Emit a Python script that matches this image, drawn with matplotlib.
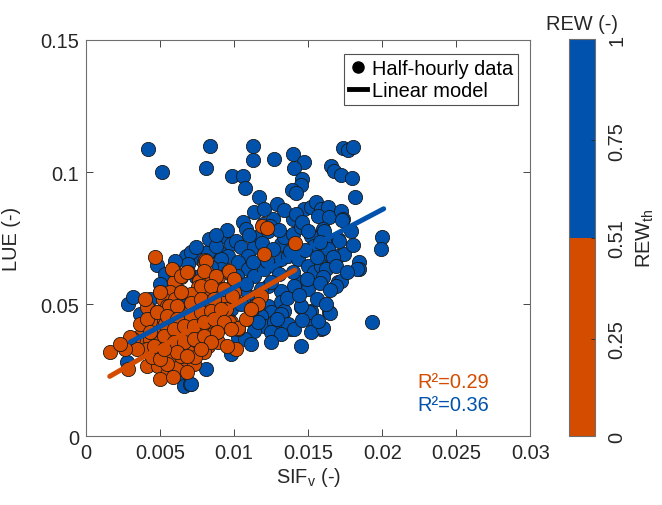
import numpy as np
import matplotlib
matplotlib.use('Agg')
import matplotlib.pyplot as plt
from matplotlib.colors import ListedColormap, BoundaryNorm
from matplotlib.cm import ScalarMappable
from matplotlib.lines import Line2D

plt.rcParams['font.family'] = ['Liberation Sans', 'DejaVu Sans']

# SIF_v and LUE, in units of 1e-3
# REW above threshold (blue)
blue_sif = [4.21, 5.16, 8.35, 8.08, 11.27, 11.27, 12.70, 9.84, 10.59, 10.73, 11.68, 13.99, 14.73, 14.05,
            14.60, 14.53, 13.92, 14.19, 17.38, 17.72, 18.06, 16.56, 16.77, 17.24, 17.99, 18.19, 11.34, 10.59,
            10.79, 11.95, 12.63, 13.99, 14.73, 15.21, 15.55, 15.89, 16.36, 15.68, 16.43, 17.24, 17.38, 9.23,
            9.78, 10.12, 10.45, 11.34, 11.68, 12.29, 13.17, 13.37, 13.99, 14.53, 15.21, 15.41, 16.02, 16.36,
            17.04, 7.54, 8.28, 9.00, 9.57, 10.93, 6.72, 7.74,
            4.82, 2.85, 3.19, 2.78, 6.38, 6.59, 6.99, 6.59, 7.20, 6.18, 7.06, 8.21, 9.10, 10.25, 10.93, 11.34,
            12.02, 12.70, 13.17, 13.65, 14.32, 15.00, 15.41, 15.89, 16.56, 17.04, 17.45, 18.40, 18.40, 17.04,
            17.24, 14.53, 14.05, 15.00, 13.17, 12.29, 11.81, 10.93, 11.61, 12.29, 13.17, 13.37, 12.49, 11.81,
            11.13, 11.34, 12.02, 12.70, 13.37, 13.85, 12.70, 11.34, 10.25, 14.53, 15.21, 15.41, 15.89, 15.21,
            16.43, 14.53, 19.28,
            17.31, 16.09, 17.11, 17.92, 19.96, 19.89, 16.36, 16.70, 16.23, 16.90, 16.02, 16.90, 18.33, 16.50,
            16.02, 11.61, 13.17, 13.65, 14.05, 12.49, 13.17, 12.49, 15.07, 15.68, 7.06, 14.53,
            7.74, 8.42, 9.23, 9.78, 10.45, 10.66, 9.91, 9.10, 8.42, 6.86, 6.04, 5.36, 4.34, 3.67, 4.00, 5.02,
            7.40, 9.57, 8.76, 10.73, 11.13, 9.78, 8.08, 6.04, 8.28, 8.76, 7.40,
            12.0, 12.9, 13.4, 14.2, 12.4, 13.0, 14.6, 15.0, 11.0, 11.9, 12.6, 13.8, 14.8, 15.6, 15.8, 12.2,
            13.0, 14.0, 14.9, 15.8, 16.5, 12.5, 13.6, 14.4, 15.6, 16.2, 10.2, 10.8, 11.5, 12.9, 14.6, 17.6,
            18.0, 9.5, 8.8, 11.3]
blue_lue = [108.7, 100.0, 109.8, 101.5, 109.8, 104.5, 104.9, 98.5, 98.5, 93.9, 90.5, 106.8, 103.8, 101.5,
            97.3, 95.1, 93.2, 92.0, 109.1, 108.3, 109.5, 102.3, 100.4, 98.9, 97.7, 90.5, 84.8, 81.1,
            78.4, 80.3, 82.2, 82.2, 86.0, 86.7, 88.6, 86.0, 86.7, 83.3, 83.0, 85.2, 82.2, 75.8,
            72.7, 73.9, 71.6, 71.6, 75.8, 77.7, 72.7, 75.4, 76.5, 79.2, 75.8, 72.0, 78.4, 72.7,
            74.6, 68.9, 69.7, 69.7, 68.2, 68.2, 68.2, 67.0,
            64.8, 50.0, 52.7, 28.0, 22.7, 18.9, 19.7, 51.9, 50.8, 54.9, 69.7, 69.7, 67.0, 65.9, 63.3, 60.6,
            63.3, 64.4, 67.0, 68.2, 67.0, 64.4, 62.1, 64.4, 68.2, 68.2, 68.9, 65.9, 63.3, 58.3,
            58.7, 58.3, 56.8, 55.7, 54.9, 56.8, 55.7, 51.9, 50.8, 49.2, 50.8, 47.3, 47.0, 45.5,
            47.0, 43.2, 41.7, 43.2, 41.7, 40.5, 39.4, 39.8, 37.5, 48.9, 47.3, 43.2, 40.5, 39.4,
            47.0, 34.1, 43.2,
            81.8, 77.7, 73.9, 77.7, 75.4, 70.8, 70.8, 67.8, 63.3, 64.4, 60.2, 56.8, 63.3, 46.6,
            40.9, 43.2, 46.2, 42.4, 40.5, 39.4, 38.6, 35.6, 47.0, 43.6, 19.7, 49.2,
            55.7, 53.0, 50.0, 48.1, 50.0, 55.7, 60.2, 63.3, 64.0, 65.2, 66.3, 61.4, 51.9, 46.2, 40.5, 57.6,
            60.2, 44.3, 42.4, 36.7, 34.8, 31.1, 25.4, 24.6, 74.6, 72.0, 71.6,
            86.0, 88.0, 85.5, 84.0, 79.5, 78.0, 81.0, 77.5, 76.0, 73.0, 71.0, 70.0, 70.5, 68.0, 73.5, 66.5,
            61.5, 62.0, 59.5, 58.0, 55.5, 58.5, 52.5, 53.5, 52.0, 50.0, 60.5, 57.5, 53.0, 44.5, 44.0, 62.0,
            72.5, 78.0, 76.0, 66.0]

# REW below threshold (orange)
orange_sif = [1.63, 4.68, 5.91, 6.38, 6.86, 5.91, 5.70, 6.38, 5.02, 5.23, 5.50, 4.14, 4.82, 4.21, 5.23,
              5.91, 6.59, 7.06, 7.54, 7.94, 8.08, 7.60, 8.42, 8.89, 9.57, 9.98, 9.10, 8.21, 7.54, 9.98,
              9.30, 8.62, 8.21, 7.54, 6.86, 6.18, 5.50, 4.82, 4.14, 3.67, 3.19, 4.34, 5.02, 5.70, 6.38,
              7.06, 7.74, 8.42, 9.10, 9.78, 10.25, 8.89, 8.21, 7.54, 6.86, 6.18, 5.50, 4.82, 4.14, 3.46,
              2.99, 4.14, 4.89, 5.50, 6.18, 6.72, 7.26, 7.94, 10.12, 11.47, 11.81, 4.82, 5.70, 6.38, 5.50,
              4.48, 6.86, 11.88, 12.22, 14.12, 12.02, 8.01, 11.61, 9.64, 10.25,
              6.04, 7.06, 4.34, 7.74, 8.76, 9.43, 5.02, 6.04, 7.33, 5.36, 4.00, 3.67, 2.65, 2.31, 2.85,
              6.79, 5.02, 5.84, 8.55, 10.79, 11.13,
              5.82, 6.38, 6.83, 8.08, 7.96, 8.76, 9.66, 10.00, 7.74, 8.42, 9.32, 5.02, 5.59, 6.38, 6.16,
              7.06, 7.74, 8.64, 9.89, 4.12, 4.80, 5.48, 6.16, 7.06, 7.74, 8.42, 9.10, 4.34, 5.25, 5.93,
              6.61, 7.28, 7.96, 8.64, 9.32, 9.78, 5.93, 6.61, 7.28, 7.96, 8.87, 8.42, 9.55, 6.16, 6.84,
              7.74, 4.57, 5.25]
orange_lue = [31.8, 67.8, 62.5, 60.2, 62.1, 58.3, 54.5, 54.5, 54.5, 51.9, 49.2, 48.9, 47.0, 44.3, 44.3,
              44.3, 47.0, 48.9, 50.8, 65.9, 62.5, 58.7, 58.3, 60.2, 62.1, 58.3, 55.7, 55.7, 56.4, 54.5,
              51.9, 50.8, 48.1, 45.5, 41.7, 41.7, 40.5, 40.5, 40.5, 37.9, 36.7, 36.7, 35.6, 36.7, 37.9,
              37.9, 39.4, 40.5, 41.7, 43.2, 40.5, 35.6, 34.1, 34.1, 34.1, 33.0, 33.0, 33.0, 33.0, 33.0,
              37.5, 26.5, 26.5, 23.5, 26.1, 29.2, 27.3, 31.8, 33.0, 49.6, 53.0, 30.3, 30.3, 30.3, 27.3,
              29.9, 31.8, 79.5, 78.8, 73.1, 68.9, 66.7, 50.0, 43.2, 40.9,
              51.9, 53.8, 43.6, 45.1, 46.2, 48.1, 29.2, 34.8, 29.9, 42.4, 51.9, 42.4, 33.0, 34.8, 25.4,
              24.2, 21.6, 22.3, 38.6, 44.3, 48.1,
              63.3, 60.7, 62.0, 66.4, 62.6, 60.7, 62.6, 59.5, 56.9, 56.9, 55.7, 54.4, 49.4, 54.4, 49.4,
              50.6, 51.9, 51.9, 53.1, 44.3, 46.9, 45.6, 44.3, 45.6, 46.9, 47.5, 48.1, 39.3, 38.0, 40.5,
              41.8, 41.8, 43.1, 44.3, 43.1, 40.5, 35.5, 35.5, 36.7, 38.0, 39.3, 35.5, 34.2, 31.7, 30.4,
              33.0, 34.2, 33.0]

# linear models: slope, intercept, SIF range
blue_fit = (2.95, 0.0268, 0.0030, 0.0201)
orange_fit = (3.22, 0.0175, 0.0016, 0.0141)
r2_orange = 0.29
r2_blue = 0.36
rew_th = 0.51

c_blue = '#0052AC'
c_orange = '#D44C00'
txt = '#262626'
fs = 14.4

fig = plt.figure(figsize=(6.62, 5.06), dpi=100)
ax = fig.add_axes([0.130, 0.136, 0.671, 0.783])

ax.scatter(np.array(blue_sif) * 1e-3, np.array(blue_lue) * 1e-3, s=105, c=c_blue,
           edgecolors='#1a1a1a', linewidths=0.6, zorder=2)
ax.scatter(np.array(orange_sif) * 1e-3, np.array(orange_lue) * 1e-3, s=105, c=c_orange,
           edgecolors='#1a1a1a', linewidths=0.6, zorder=3)

for (k, b, x0, x1), col in [(blue_fit, c_blue), (orange_fit, c_orange)]:
    xs = np.array([x0, x1])
    ax.plot(xs, k * xs + b, color=col, lw=3.6, solid_capstyle='round', zorder=4)

ax.set_xlim(0, 0.03)
ax.set_ylim(0, 0.15)
ax.set_xticks([0, 0.005, 0.01, 0.015, 0.02, 0.025, 0.03])
ax.set_xticklabels(['0', '0.005', '0.01', '0.015', '0.02', '0.025', '0.03'])
ax.set_yticks([0, 0.05, 0.1, 0.15])
ax.set_yticklabels(['0', '0.05', '0.1', '0.15'])
ax.tick_params(direction='in', top=True, right=True, labelsize=fs, colors=txt,
               length=5, width=0.6, pad=5)
for sp in ax.spines.values():
    sp.set_color('#6e6e6e')
    sp.set_linewidth(0.8)
ax.set_xlabel('SIF$_\\mathregular{v}$ (-)', fontsize=fs, color=txt, labelpad=2)
ax.set_ylabel('LUE (-)', fontsize=fs, color=txt, labelpad=14)

handles = [Line2D([], [], marker='o', ls='none', color='black', markersize=8),
           Line2D([], [], color='black', lw=3.5)]
leg = ax.legend(handles, ['Half-hourly data', 'Linear model'], loc='upper right',
                bbox_to_anchor=(0.973, 0.965), fontsize=fs, frameon=True, fancybox=False,
                handlelength=0.9, handletextpad=0.25, borderpad=0.25, labelspacing=0.15,
                borderaxespad=0)
leg.get_frame().set_edgecolor(txt)
leg.get_frame().set_linewidth(0.8)

ax.text(0.0224, 0.0208, f'R²={r2_orange:.2f}', color=c_orange, fontsize=fs, va='center')
ax.text(0.0224, 0.0121, f'R²={r2_blue:.2f}', color=c_blue, fontsize=fs, va='center')

cax = fig.add_axes([0.860, 0.136, 0.039, 0.785])
cmap = ListedColormap([c_orange, c_blue])
norm = BoundaryNorm([0, rew_th, 1], cmap.N)
cb = fig.colorbar(ScalarMappable(norm=norm, cmap=cmap), cax=cax, ticks=[0, 0.25, rew_th, 0.75, 1])
cb.ax.set_yticklabels(['0', '0.25', '0.51', '0.75', '1'], rotation=90, va='center')
cb.ax.tick_params(direction='in', labelsize=fs, colors=txt, length=3, width=0.6, pad=9)
cb.outline.set_edgecolor('#6e6e6e')
cb.outline.set_linewidth(0.8)
cb.set_label('REW$_\\mathregular{th}$', fontsize=fs, color=txt, labelpad=6)
cb.ax.set_title('REW (-)', fontsize=fs, color=txt, pad=7)

fig.savefig('out.png', dpi=100)
